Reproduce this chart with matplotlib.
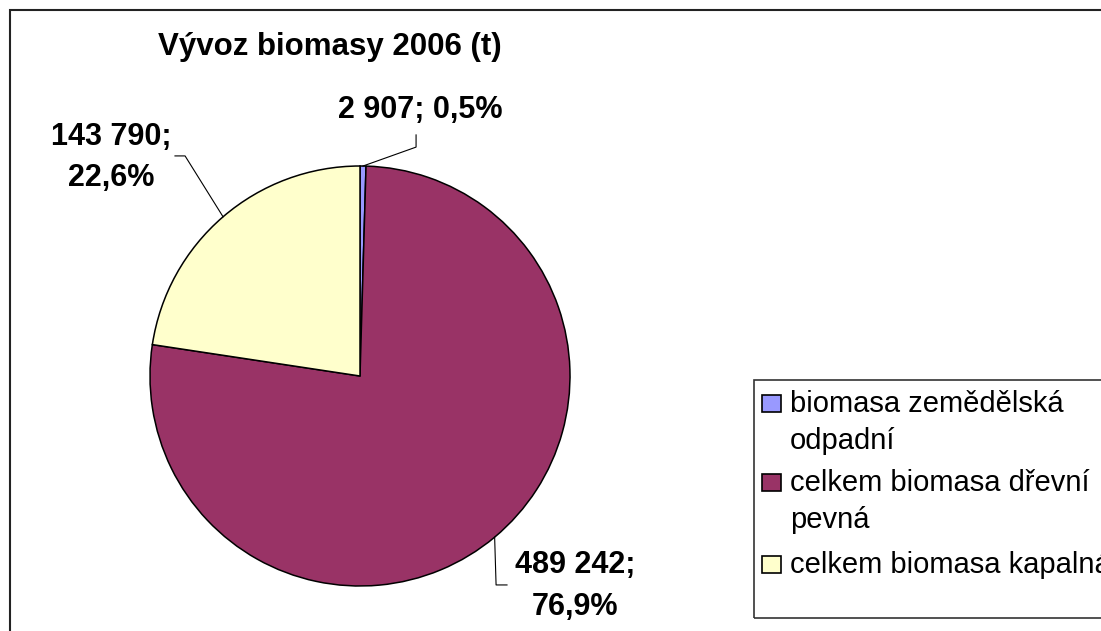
import matplotlib
matplotlib.use("Agg")
import matplotlib.pyplot as plt
from matplotlib.patches import Rectangle
import numpy as np

plt.rcParams['font.family'] = ['Liberation Sans', 'DejaVu Sans']

# ---- data ----
title = "Vývoz biomasy 2006 (t)"
categories = ["biomasa zemědělská\nodpadní", "celkem biomasa dřevní\npevná", "celkem biomasa kapalná"]
values = [2907, 489242, 143790]
colors = ["#9999FF", "#993366", "#FFFFCC"]

W, H = 1101, 631
fig = plt.figure(figsize=(W / 100, H / 100), dpi=100)
fig.patch.set_facecolor("white")

def fx(x):
    return x / W

def fy(y):
    return 1 - y / H

# outer chart frame (extends beyond right/bottom of picture)
fig.patches.append(Rectangle((fx(10), fy(700)), fx(1200), (700 - 10) / H,
                             transform=fig.transFigure, fill=False,
                             edgecolor="#222222", lw=1.5))

# pie axes: centre (360, 376) px, radius 210 px
cx, cy, r = 360, 376, 210
ax = fig.add_axes([fx(cx - r), fy(cy + r), 2 * r / W, 2 * r / H])
wedges, _ = ax.pie(values, colors=colors, startangle=90, counterclock=False,
                   wedgeprops=dict(edgecolor="black", linewidth=1.1))
ax.set_xlim(-1, 1)
ax.set_ylim(-1, 1)
ax.set_aspect("equal")
ax.axis("off")

total = sum(values)

def fmt(v):
    pct = v / total * 100
    return f"{v:,}".replace(",", " "), f"{pct:.1f}".replace(".", ",") + "%"

# label layout: (elbow, end, text position)
layouts = [
    dict(elbow=(0.267, 1.090), end=(0.267, 1.148), pos=(0.286, 1.267), multiline=False),
    dict(elbow=(0.648, -0.995), end=(0.700, -0.995), pos=(1.024, -1.000), multiline=True),
    dict(elbow=(-0.833, 1.048), end=(-0.881, 1.048), pos=(-1.186, 1.040), multiline=True),
]

for w, v, lay in zip(wedges, values, layouts):
    ang = np.deg2rad((w.theta1 + w.theta2) / 2)
    sx, sy = np.cos(ang), np.sin(ang)
    ex, ey = lay["elbow"]
    tx, ty = lay["end"]
    ax.plot([sx, ex, tx], [sy, ey, ty], color="black", lw=0.8, clip_on=False)
    a, b = fmt(v)
    txt = f"{a}; {b}" if not lay["multiline"] else f"{a};\n{b}"
    ax.text(lay["pos"][0], lay["pos"][1], txt, ha="center", va="center",
            fontsize=22, fontweight="bold", linespacing=1.5, clip_on=False)

# title
fig.text(fx(330), fy(47), title, ha="center", va="center",
         fontsize=22.5, fontweight="bold")

# legend (manual, box extends beyond right edge)
fig.patches.append(Rectangle((fx(754), fy(618)), fx(500), (618 - 380) / H,
                             transform=fig.transFigure, fill=False,
                             edgecolor="#333333", lw=1.2))
first_baselines = [412, 491, 573]
line_gap = 37
for lab, col, base in zip(categories, colors, first_baselines):
    fig.patches.append(Rectangle((fx(762), fy(base)), 19 / W, 17 / H,
                                 transform=fig.transFigure, facecolor=col,
                                 edgecolor="black", lw=1.2))
    for i, line in enumerate(lab.split("\n")):
        fig.text(fx(790), fy(base + i * line_gap), line, ha="left",
                 va="baseline", fontsize=21)

fig.savefig("out.png", dpi=100, facecolor="white")
